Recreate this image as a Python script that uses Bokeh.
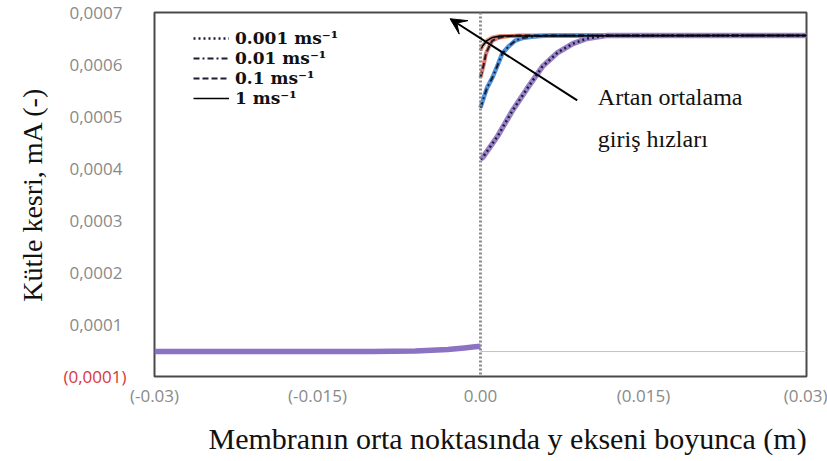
from bokeh.plotting import figure
from bokeh.models import (FixedTicker, Label, Span, Arrow, VeeHead, Legend, LegendItem,
                          LinearAxis, Title)
from bokeh.embed import file_html
from bokeh.resources import INLINE

# ---------------- data ----------------
series_labels = ["0.001 ms⁻¹", "0.01 ms⁻¹", "0.1 ms⁻¹", "1 ms⁻¹"]

# left side (all curves overlap)
left_y = [-0.03, -0.02, -0.01, -0.006, -0.003, -0.0015, -0.0005, 0.0]
left_m = [0.000048, 0.000048, 0.000048, 0.000049, 0.000052, 0.000055, 0.000057, 0.000058]

# right side, 0.001 m/s
y_0001 = [0.0, 0.0002, 0.0016, 0.0029, 0.0043, 0.0057, 0.0071, 0.0085, 0.0098, 0.0117, 0.03]
m_0001 = [0.000418, 0.000421, 0.000463, 0.000510, 0.000554, 0.000596, 0.000623, 0.000640, 0.000650, 0.000656, 0.000656]

# 0.01 m/s
y_001 = [0.0, 0.0002, 0.0006, 0.0011, 0.0016, 0.0020, 0.0026, 0.0032, 0.0039, 0.0045, 0.0055, 0.0065, 0.0078, 0.03]
m_001 = [0.000517, 0.000530, 0.000555, 0.000575, 0.000600, 0.000621, 0.000635, 0.000646, 0.000651, 0.000653, 0.000655, 0.000656, 0.000656, 0.000656]

# 0.1 m/s
y_01 = [0.0, 0.0003, 0.0005, 0.0008, 0.0011, 0.0016, 0.0020, 0.0028, 0.0036, 0.03]
m_01 = [0.000575, 0.000600, 0.000621, 0.000635, 0.000646, 0.000651, 0.000653, 0.000655, 0.000656, 0.000656]

# 1 m/s
y_1 = [0.0, 0.0002, 0.0006, 0.0011, 0.0018, 0.03]
m_1 = [0.000627, 0.000636, 0.000646, 0.000652, 0.000655, 0.000656]

# thin reference line on the right side
ref_y = [0.0, 0.03]
ref_m = [0.000048, 0.000048]

x_ticks = [-0.03, -0.015, 0.0, 0.015, 0.03]
x_tick_labels = ["(-0.03)", "(-0.015)", "0.00", "(0.015)", "(0.03)"]
y_ticks = [0.0001, 0.0002, 0.0003, 0.0004, 0.0005, 0.0006, 0.0007]
y_tick_labels = ["0,0001", "0,0002", "0,0003", "0,0004", "0,0005", "0,0006", "0,0007"]
zero_tick = [0.0]
zero_label = ["(0,0001)"]
x_title = "Membranın orta noktasında y ekseni boyunca (m)"
y_title = "Kütle kesri, mA (-)"

arrow_start = (0.0089, 0.000531)
arrow_end = (-0.0028, 0.000688)
note_pos = (0.0108, 0.000537, 0.000457)
note_lines = ["Artan ortalama", "giriş hızları"]

# ---------------- figure ----------------
SERIF = "Liberation Serif"
SANS = "Open Sans"

p = figure(frame_width=652, frame_height=364,
           min_border_left=154, min_border_right=21, min_border_top=12, min_border_bottom=85,
           x_range=(-0.03, 0.03), y_range=(0.0, 0.0007),
           output_backend="svg", toolbar_location=None,
           background_fill_color="white", border_fill_color="white")

p.xgrid.visible = False
p.ygrid.visible = False
p.outline_line_color = "#4a4a4a"
p.outline_line_width = 2


def style_axis(ax, color="#8a8a8a", size="17px"):
    ax.axis_line_color = None
    ax.major_tick_line_color = None
    ax.minor_tick_line_color = None
    ax.major_label_text_font = SANS
    ax.major_label_text_font_size = size
    ax.major_label_text_color = color


style_axis(p.xaxis[0])
p.xaxis.ticker = FixedTicker(ticks=x_ticks)
p.xaxis.major_label_overrides = dict(zip(x_ticks, x_tick_labels))
p.xaxis.major_label_standoff = 1

# inner left axis: the red zero label only
style_axis(p.yaxis[0], color="#d9363e", size="17px")
p.yaxis.ticker = FixedTicker(ticks=zero_tick)
p.yaxis.major_label_overrides = dict(zip(zero_tick, zero_label))
p.yaxis.major_label_standoff = 22

# outer left axis: grey tick labels
ax2 = LinearAxis()
style_axis(ax2)
ax2.ticker = FixedTicker(ticks=y_ticks)
ax2.major_label_overrides = dict(zip(y_ticks, y_tick_labels))
ax2.major_label_standoff = -68
p.add_layout(ax2, "left")

p.add_layout(Title(text=y_title, align="center", text_font=SERIF,
                   text_font_size="28px", text_font_style="normal",
                   text_color="#111111", standoff=26), "left")
p.add_layout(Title(text=x_title, align="left", offset=54, text_font=SERIF,
                   text_font_size="30px", text_font_style="normal",
                   text_color="#111111", standoff=21), "below")

# interface dotted line
p.add_layout(Span(location=0.0, dimension="height", line_color="#8c8c8c",
                  line_width=3, line_dash="2 2"))

p.line(ref_y, ref_m, line_color="#c4c4c4", line_width=1)

# coloured thick curves
p.line(y_1, m_1, line_color="#d98a78", line_width=4, line_alpha=0.9)
p.line(y_01, m_01, line_color="#dd6e5c", line_width=4, line_alpha=0.9)
p.line(y_001, m_001, line_color="#4f93dc", line_width=4.5)
p.line(y_0001, m_0001, line_color="#9a82c9", line_width=5.5)
p.line(left_y, left_m, line_color="#8b72c2", line_width=5.5)

# dark style overlays
dark = "#1d1d33"
r_a = p.line(y_0001, m_0001, line_color=dark, line_width=2.5, line_dash="2 3")
r_b = p.line(y_001, m_001, line_color=dark, line_width=2, line_dash="6 3 2 3")
r_c = p.line(y_01, m_01, line_color=dark, line_width=2, line_dash="6 3")
r_d = p.line(y_1, m_1, line_color="black", line_width=1.5)

legend = Legend(items=[LegendItem(label=series_labels[0], renderers=[r_a]),
                       LegendItem(label=series_labels[1], renderers=[r_b]),
                       LegendItem(label=series_labels[2], renderers=[r_c]),
                       LegendItem(label=series_labels[3], renderers=[r_d])],
                location=(39, 268), background_fill_alpha=0, border_line_color=None,
                label_text_font="DejaVu Serif", label_text_font_style="bold",
                label_text_font_size="17px", label_text_color="#111111",
                label_height=18, glyph_height=18,
                glyph_width=36, spacing=-4, padding=4, margin=0, label_standoff=6)
p.add_layout(legend, "center")

# arrow and note
p.add_layout(Arrow(x_start=arrow_start[0], y_start=arrow_start[1],
                   x_end=arrow_end[0], y_end=arrow_end[1],
                   line_color="black", line_width=2,
                   end=VeeHead(size=16, fill_color="black", line_color="black")))
p.add_layout(Label(x=note_pos[0], y=note_pos[1], text=note_lines[0], text_font=SERIF,
                   text_font_size="24px", text_baseline="middle", text_color="#111111"))
p.add_layout(Label(x=note_pos[0], y=note_pos[2], text=note_lines[1], text_font=SERIF,
                   text_font_size="24px", text_baseline="middle", text_color="#111111"))

open("out.html", "w").write(file_html(p, INLINE))
